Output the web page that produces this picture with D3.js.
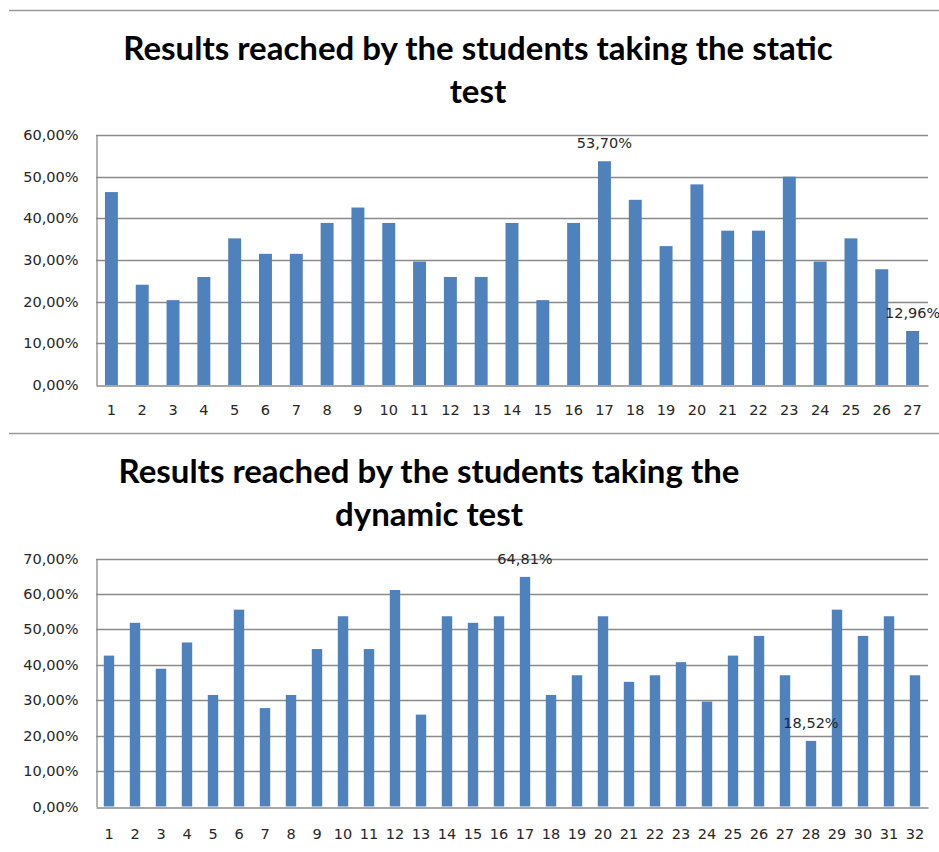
<!DOCTYPE html>
<html>
<head>
<meta charset="utf-8">
<script src="https://cdn.jsdelivr.net/npm/d3@7"></script>
<style>
  html, body { margin: 0; padding: 0; background: #fff; }
  svg { display: block; }
</style>
</head>
<body>
<svg id="chart" width="939" height="852"></svg>
<script>
// ---- data ----
const staticTitle = ["Results reached by the students taking the static", "test"];
const staticCategories = d3.range(1, 28).map(String);
const staticValues = [0.4630, 0.2407, 0.2037, 0.2593, 0.3519, 0.3148, 0.3148, 0.3889, 0.4259, 0.3889,
  0.2963, 0.2593, 0.2593, 0.3889, 0.2037, 0.3889, 0.5370, 0.4444, 0.3333, 0.4815,
  0.3704, 0.3704, 0.5000, 0.2963, 0.3519, 0.2778, 0.1296];
const staticTicks = [0, 0.1, 0.2, 0.3, 0.4, 0.5, 0.6];
const staticLabelled = ["17", "27"];

const dynamicTitle = ["Results reached by the students taking the", "dynamic test"];
const dynamicCategories = d3.range(1, 33).map(String);
const dynamicValues = [0.4259, 0.5185, 0.3889, 0.4630, 0.3148, 0.5556, 0.2778, 0.3148, 0.4444, 0.5370,
  0.4444, 0.6111, 0.2593, 0.5370, 0.5185, 0.5370, 0.6481, 0.3148, 0.3704, 0.5370,
  0.3519, 0.3704, 0.4074, 0.2963, 0.4259, 0.4815, 0.3704, 0.1852, 0.5556, 0.4815,
  0.5370, 0.3704];
const dynamicTicks = [0, 0.1, 0.2, 0.3, 0.4, 0.5, 0.6, 0.7];
const dynamicLabelled = ["17", "28"];

// ---- formatting ----
const locale = d3.formatLocale({decimal: ",", thousands: ".", grouping: [3], currency: ["", "€"]});
const pct = locale.format(".2%");

const svg = d3.select("#chart");
const BAR = "#4F81BD";
const GRID = "#8a8a8a";
const TXT = "#262626";
const tickFont = "'DejaVu Sans', Verdana, sans-serif";
const titleFont = "Lato, 'Open Sans', sans-serif";
const tickSize = 14.5;

// separator lines
svg.append("line").attr("x1", 9).attr("x2", 939).attr("y1", 10.5).attr("y2", 10.5)
  .attr("stroke", "#9a9a9a").attr("stroke-width", 1.5);
svg.append("line").attr("x1", 9).attr("x2", 939).attr("y1", 433.5).attr("y2", 433.5)
  .attr("stroke", "#9a9a9a").attr("stroke-width", 1.5);

function drawChart(cfg) {
  const g = svg.append("g");
  // title
  const t = g.append("text")
    .attr("text-anchor", "middle")
    .attr("font-family", titleFont)
    .attr("font-weight", "bold")
    .attr("font-size", cfg.titleSize)
    .attr("fill", "#000");
  cfg.title.forEach((line, i) => {
    t.append("tspan").attr("x", cfg.titleX).attr("y", cfg.titleY + i * 43).text(line);
  });

  const x = d3.scaleBand().domain(cfg.categories).range([cfg.left, cfg.right]).paddingInner(cfg.pad).paddingOuter(cfg.pad / 2);
  const y = d3.scaleLinear().domain([0, d3.max(cfg.ticks)]).range([cfg.bottom, cfg.top]);

  // gridlines
  g.append("g").selectAll("line").data(cfg.ticks.filter(d => d > 0)).join("line")
    .attr("x1", cfg.left).attr("x2", cfg.right)
    .attr("y1", d => Math.round(y(d)) + 0.5).attr("y2", d => Math.round(y(d)) + 0.5)
    .attr("stroke", GRID).attr("stroke-width", 1.3);

  // y axis
  const ya = g.append("g").attr("transform", `translate(${cfg.left + 0.5},0)`)
    .call(d3.axisLeft(y).tickValues(cfg.ticks).tickFormat(pct).tickSize(0).tickPadding(18));
  ya.select(".domain").attr("stroke", GRID).attr("stroke-width", 1.3);
  ya.selectAll("text").attr("font-family", tickFont).attr("font-size", tickSize).attr("fill", TXT);

  // bars
  g.append("g").selectAll("rect").data(cfg.values).join("rect")
    .attr("x", (d, i) => x(cfg.categories[i]))
    .attr("width", x.bandwidth())
    .attr("y", d => y(d))
    .attr("height", d => cfg.bottom - y(d))
    .attr("fill", BAR);

  // x axis
  const xa = g.append("g").attr("transform", `translate(0,${Math.round(cfg.bottom) + 0.5})`)
    .call(d3.axisBottom(x).tickSize(0).tickPadding(cfg.xPad));
  xa.select(".domain").attr("stroke", GRID).attr("stroke-width", 1.3);
  xa.selectAll("text").attr("font-family", tickFont).attr("font-size", tickSize).attr("fill", TXT);

  // data labels
  g.append("g").selectAll("text").data(cfg.labelled).join("text")
    .attr("x", c => x(c) + x.bandwidth() / 2)
    .attr("y", c => y(cfg.values[cfg.categories.indexOf(c)]) - 13)
    .attr("text-anchor", "middle")
    .attr("font-family", tickFont).attr("font-size", tickSize).attr("fill", TXT)
    .text(c => pct(cfg.values[cfg.categories.indexOf(c)]));
}

drawChart({
  title: staticTitle, titleX: 478, titleY: 60, titleSize: 33,
  categories: staticCategories, values: staticValues, ticks: staticTicks, labelled: staticLabelled,
  left: 96, right: 928, top: 135, bottom: 385, pad: 0.58, xPad: 19
});

drawChart({
  title: dynamicTitle, titleX: 429, titleY: 483, titleSize: 33,
  categories: dynamicCategories, values: dynamicValues, ticks: dynamicTicks, labelled: dynamicLabelled,
  left: 96, right: 928, top: 558.5, bottom: 806.5, pad: 0.6, xPad: 21
});
</script>
</body>
</html>
